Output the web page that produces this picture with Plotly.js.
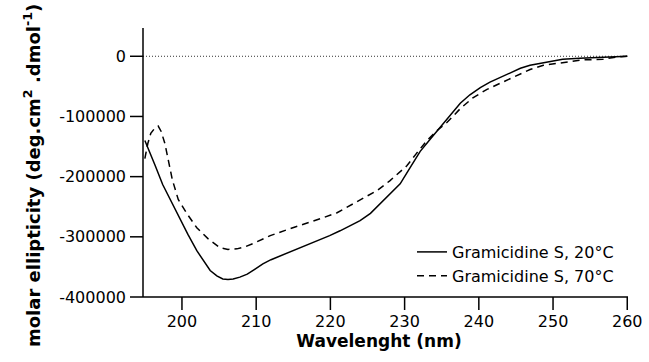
<!DOCTYPE html>
<html>
<head>
<meta charset="utf-8">
<script src="https://cdn.plot.ly/plotly-3.0.1.min.js"></script>
<style>html,body{margin:0;padding:0;background:#fff;}#chart{width:649px;height:362px;}</style>
</head>
<body>
<div id="chart"></div>
<script>
// 20 °C series
const wl20 = [195.0,195.7,196.4,197.4,198.5,199.7,200.8,202.0,203.0,203.8,204.7,205.5,206.2,206.9,207.8,208.8,209.8,210.9,212.0,213.2,215.5,218.2,219.9,221.3,222.6,224.0,225.4,226.7,228.0,229.4,230.7,232.1,233.5,234.8,236.2,237.5,238.8,240.2,241.5,242.9,244.2,245.6,246.9,248.2,249.6,251.3,253.6,255.9,258.6,260.0];
const theta20 = [-140000,-160000,-182000,-213000,-240000,-268000,-296000,-323000,-342000,-356000,-365000,-370000,-371000,-370000,-367000,-362000,-354000,-345000,-338000,-332000,-320000,-307000,-298000,-290000,-282000,-273000,-261000,-245000,-229000,-212000,-186000,-158000,-137000,-118000,-98000,-78000,-64000,-52000,-43000,-35000,-27000,-20000,-15000,-12000,-8300,-5000,-3300,-1700,0,0];
// 70 °C series
const wl70 = [195.0,195.4,195.8,196.3,196.8,197.2,197.7,198.1,198.7,199.5,200.7,202.0,203.5,205.1,206.2,207.4,208.6,209.8,211.9,214.2,216.3,218.6,220.9,222.6,224.3,226.3,228.0,229.6,230.3,231.5,233.0,234.5,235.7,237.5,239.2,241.1,242.9,245.1,246.9,248.7,251.3,254.0,256.7,258.6,260.0];
const theta70 = [-170000,-145000,-128000,-120000,-116000,-125000,-145000,-170000,-205000,-238000,-262000,-285000,-303000,-318000,-321000,-320000,-316000,-310000,-298000,-288000,-280000,-270000,-260000,-248000,-237000,-223000,-207000,-190000,-182000,-163000,-140000,-122000,-110000,-87000,-69000,-55000,-45000,-32000,-22000,-15000,-11000,-6000,-5000,-1000,0];

const seriesNames = ['Gramicidine S, 20°C', 'Gramicidine S, 70°C'];
const xTicks = [200,210,220,230,240,250,260];
const yTicks = [0,-100000,-200000,-300000,-400000];
const yTickText = ['0','-100000','-200000','-300000','-400000'];
const xTitle = 'Wavelenght (nm)';
const yTitle = 'molar ellipticity (deg.cm<sup>2</sup> .dmol<sup>-1</sup>)';

const font = 'DejaVu Sans, sans-serif';
const W = 649, H = 362;
// axes box (where the axis lines sit)
const BOX = {l: 143, r: 21, t: 28, b: 65};
const boxW = W - BOX.l - BOX.r, boxH = H - BOX.t - BOX.b;
const xAxisRange = [194.75, 260.1];
const yAxisRange = [-400000, 47000];
const TICK = 13;
// plot area is widened by the tick length so the outside ticks are drawn inside it
const M = {l: BOX.l - TICK, r: BOX.r, t: BOX.t, b: BOX.b - TICK};
const plotW = W - M.l - M.r, plotH = H - M.t - M.b;
const xPerPx = (xAxisRange[1] - xAxisRange[0]) / boxW;
const yPerPx = (yAxisRange[1] - yAxisRange[0]) / boxH;
const xRange = [xAxisRange[0] - TICK * xPerPx, xAxisRange[1]];
const yRange = [yAxisRange[0] - TICK * yPerPx, yAxisRange[1]];

const traces = [
  {x: wl20, y: theta20, name: seriesNames[0], type: 'scatter', mode: 'lines',
   line: {color: '#000', width: 1.5}},
  {x: wl70, y: theta70, name: seriesNames[1], type: 'scatter', mode: 'lines',
   line: {color: '#000', width: 1.5, dash: '7px,5px'}}
];

const axisLine = {color: '#000', width: 1.5};
const shapes = [
  // dotted zero reference line
  {type: 'line', xref: 'x', yref: 'y', x0: xAxisRange[0], x1: xAxisRange[1], y0: 0, y1: 0,
   line: {color: '#333', width: 1, dash: '1px,2px'}, layer: 'below'},
  // axis lines
  {type: 'line', xref: 'x', yref: 'y', x0: xAxisRange[0], x1: xAxisRange[0], y0: yAxisRange[0], y1: yAxisRange[1], line: axisLine},
  {type: 'line', xref: 'x', yref: 'y', x0: xAxisRange[0], x1: xAxisRange[1], y0: yAxisRange[0], y1: yAxisRange[0], line: axisLine}
].concat(
  xTicks.map(v => ({type: 'line', xref: 'x', yref: 'y', x0: v, x1: v, y0: yAxisRange[0], y1: yRange[0], line: axisLine})),
  yTicks.map(v => ({type: 'line', xref: 'x', yref: 'y', x0: xRange[0], x1: xAxisRange[0], y0: v, y1: v, line: axisLine}))
);

const layout = {
  width: W, height: H,
  margin: M,
  paper_bgcolor: '#fff', plot_bgcolor: '#fff',
  font: {family: font, size: 16, color: '#000'},
  showlegend: true,
  legend: {x: (412 - M.l) / plotW, y: (H - M.b - 235) / plotH, xanchor: 'left', yanchor: 'top',
           bgcolor: 'rgba(0,0,0,0)', font: {family: font, size: 16, color: '#000'}, tracegroupgap: 0},
  xaxis: {
    range: xRange, tickmode: 'array', tickvals: xTicks, ticktext: xTicks.map(String),
    showgrid: false, zeroline: false, showline: false, ticks: '',
    title: {text: xTitle, font: {family: font, size: 17, weight: 'bold', color: '#000'}, standoff: 2}
  },
  yaxis: {
    range: yRange, tickmode: 'array', tickvals: yTicks, ticktext: yTickText,
    showgrid: false, zeroline: false, showline: false, ticks: '', ticklabelstandoff: 3
  },
  annotations: [
    {text: yTitle, xref: 'paper', yref: 'paper', x: (32 - M.l) / plotW, y: (H - M.b - 176) / plotH,
     xanchor: 'center', yanchor: 'middle', textangle: -90, showarrow: false,
     font: {family: font, size: 18, weight: 'bold', color: '#000'}}
  ],
  shapes: shapes
};

Plotly.newPlot('chart', traces, layout, {displayModeBar: false, staticPlot: true});
</script>
</body>
</html>
